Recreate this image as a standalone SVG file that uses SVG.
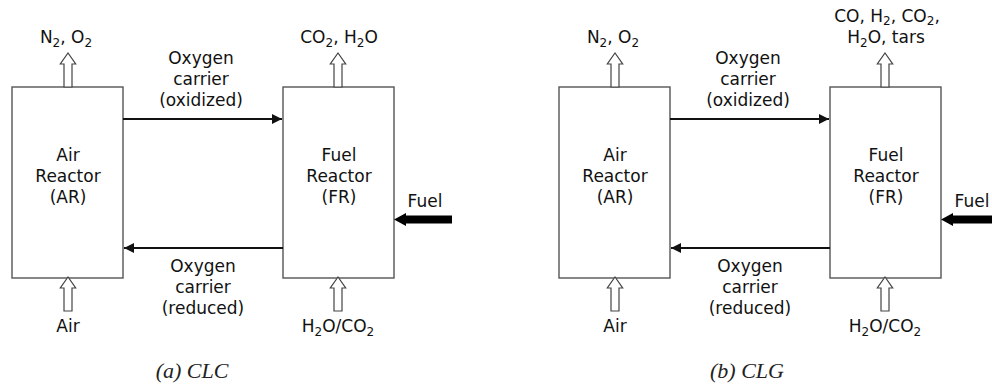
<svg xmlns="http://www.w3.org/2000/svg" width="992" height="385" viewBox="0 0 992 385">
<defs>
<style>
.box{fill:#fff;stroke:#555;stroke-width:1.4}
.t{font-family:"DejaVu Sans",Verdana,sans-serif;font-size:17px;fill:#111;text-anchor:middle}
.cap{font-family:"Liberation Serif","Times New Roman",serif;font-style:italic;font-size:22px;fill:#222;text-anchor:middle}
.conn{stroke:#111;stroke-width:2;fill:none}
.hollow{fill:#fff;stroke:#444;stroke-width:1.2}
.solid{fill:#000}
.sub{font-size:12px}
</style>
<marker id="ah" viewBox="0 0 10 10" refX="10" refY="5" markerWidth="5" markerHeight="5" markerUnits="strokeWidth" orient="auto">
<path d="M0,0 L10,5 L0,10 z" fill="#111"/>
</marker>
<path id="hup" d="M-4,0 L-4,-23 L-7.7,-23 L0,-34 L7.7,-23 L4,-23 L4,0 Z"/>
</defs>

<g id="panel-a">
<g id="ar-a"><rect class="box" x="12" y="87" width="111" height="191"/>
<text class="t" x="68" y="161">Air</text><text class="t" x="68" y="182">Reactor</text><text class="t" x="68" y="203">(AR)</text></g>
<g id="fr-a"><rect class="box" x="283" y="87" width="111" height="191"/>
<text class="t" x="339" y="161">Fuel</text><text class="t" x="339" y="182">Reactor</text><text class="t" x="339" y="203">(FR)</text></g>
<g id="connectors-a">
<line class="conn" x1="123" y1="119" x2="282" y2="119" marker-end="url(#ah)"/>
<line class="conn" x1="283" y1="248" x2="124" y2="248" marker-end="url(#ah)"/>
<use href="#hup" class="hollow" x="68" y="87"/>
<use href="#hup" class="hollow" x="338" y="87"/>
<use href="#hup" class="hollow" x="68" y="311"/>
<use href="#hup" class="hollow" x="338" y="311"/>
<path class="solid" d="M394,219.5 L406,213 L406,215.5 L452,215.5 L452,223.5 L406,223.5 L406,226 Z"/>
</g>
<text class="t" x="66" y="43">N<tspan class="sub" dy="4">2</tspan><tspan dy="-4">, O</tspan><tspan class="sub" dy="4">2</tspan></text>
<text class="t" x="339" y="43">CO<tspan class="sub" dy="4">2</tspan><tspan dy="-4">, H</tspan><tspan class="sub" dy="4">2</tspan><tspan dy="-4">O</tspan></text>
<text class="t" x="201" y="64">Oxygen</text><text class="t" x="201" y="85">carrier</text><text class="t" x="201" y="106">(oxidized)</text>
<text class="t" x="203" y="272">Oxygen</text><text class="t" x="203" y="293">carrier</text><text class="t" x="203" y="314">(reduced)</text>
<text class="t" x="68" y="332">Air</text>
<text class="t" x="338" y="332">H<tspan class="sub" dy="4">2</tspan><tspan dy="-4">O/CO</tspan><tspan class="sub" dy="4">2</tspan></text>
<text class="t" x="425" y="207">Fuel</text>
<text class="cap" x="192" y="378">(a) CLC</text>
</g>

<g id="panel-b">
<g id="ar-b"><rect class="box" x="559" y="87" width="111" height="191"/>
<text class="t" x="615" y="161">Air</text><text class="t" x="615" y="182">Reactor</text><text class="t" x="615" y="203">(AR)</text></g>
<g id="fr-b"><rect class="box" x="830" y="87" width="111" height="191"/>
<text class="t" x="886" y="161">Fuel</text><text class="t" x="886" y="182">Reactor</text><text class="t" x="886" y="203">(FR)</text></g>
<g id="connectors-b">
<line class="conn" x1="670" y1="119" x2="829" y2="119" marker-end="url(#ah)"/>
<line class="conn" x1="830" y1="248" x2="671" y2="248" marker-end="url(#ah)"/>
<use href="#hup" class="hollow" x="615" y="87"/>
<use href="#hup" class="hollow" x="885" y="87"/>
<use href="#hup" class="hollow" x="615" y="311"/>
<use href="#hup" class="hollow" x="885" y="311"/>
<path class="solid" d="M941,219.5 L953,213 L953,215.5 L999,215.5 L999,223.5 L953,223.5 L953,226 Z"/>
</g>
<text class="t" x="613" y="43">N<tspan class="sub" dy="4">2</tspan><tspan dy="-4">, O</tspan><tspan class="sub" dy="4">2</tspan></text>
<text class="t" x="887" y="22">CO, H<tspan class="sub" dy="3">2</tspan><tspan dy="-3">, CO</tspan><tspan class="sub" dy="3">2</tspan><tspan dy="-3">,</tspan></text>
<text class="t" x="886" y="43">H<tspan class="sub" dy="4">2</tspan><tspan dy="-4">O, tars</tspan></text>
<text class="t" x="748" y="64">Oxygen</text><text class="t" x="748" y="85">carrier</text><text class="t" x="748" y="106">(oxidized)</text>
<text class="t" x="750" y="272">Oxygen</text><text class="t" x="750" y="293">carrier</text><text class="t" x="750" y="314">(reduced)</text>
<text class="t" x="615" y="332">Air</text>
<text class="t" x="885" y="332">H<tspan class="sub" dy="4">2</tspan><tspan dy="-4">O/CO</tspan><tspan class="sub" dy="4">2</tspan></text>
<text class="t" x="972" y="207">Fuel</text>
<text class="cap" x="747" y="378">(b) CLG</text>
</g>
</svg>
